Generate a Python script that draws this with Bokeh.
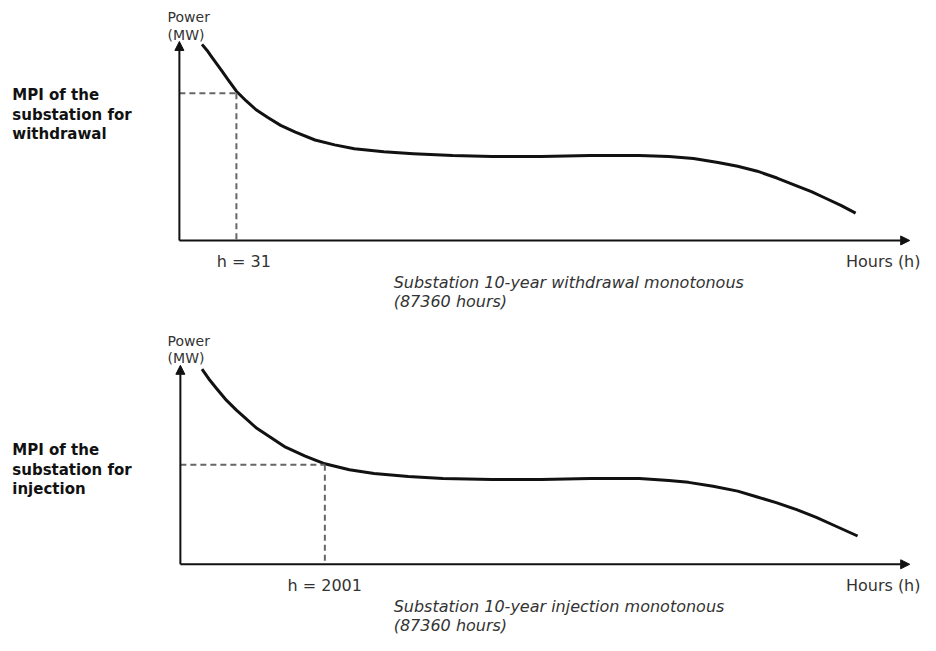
from bokeh.plotting import figure
from bokeh.models import Range1d, Arrow, NormalHead
from bokeh.core.properties import value
from bokeh.embed import file_html
from bokeh.resources import INLINE

FONT = value("DejaVu Sans")
INK = "#111111"

# curve points (reference pixel units, y downward)
top_x = [205, 210, 215, 220, 225, 232, 240, 250, 260, 272, 285, 300, 320, 340, 360, 390, 420, 460, 500,
         550, 600, 650, 680, 705, 730, 750, 770, 790, 810, 825, 840, 855, 870]
top_y = [45, 51, 58, 65, 72, 82, 93, 103, 112, 120, 128, 135, 143, 148, 152, 155, 157, 159, 160,
         160, 159, 159, 160, 162, 166, 170, 175, 182, 190, 196, 203, 210, 218]
bot_x = [205, 212, 220, 230, 240, 250, 260, 275, 290, 310, 330, 355, 380, 415, 450, 500, 550, 600,
         650, 680, 700, 725, 750, 770, 790, 810, 830, 850, 872]
bot_y = [378, 388, 398, 410, 420, 429, 438, 448, 458, 467, 475, 481, 485, 488, 490, 491, 491, 490,
         490, 492, 494, 498, 503, 509, 515, 522, 530, 539, 549]

panels = [
    dict(ox=182, oy=246, ytop=42, xend=925, cx=top_x, cy=top_y, hx=240, hy=95,
         h_label="h = 31", h_lx=220, mpi=["MPI of the", "substation for", "withdrawal"], mpi_y=97,
         cap=["Substation 10-year withdrawal monotonous", "(87360 hours)"]),
    dict(ox=183, oy=578, ytop=374, xend=925, cx=bot_x, cy=bot_y, hx=330, hy=476,
         h_label="h = 2001", h_lx=292, mpi=["MPI of the", "substation for", "injection"], mpi_y=461,
         cap=["Substation 10-year injection monotonous", "(87360 hours)"]),
]

p = figure(width=920, height=635, output_backend="svg", toolbar_location=None,
           x_range=Range1d(0, 936), y_range=Range1d(651, 0), min_border=0)
p.axis.visible = False
p.grid.visible = False
p.outline_line_color = None
p.background_fill_color = "white"

for d in panels:
    p.add_layout(Arrow(end=NormalHead(size=9, fill_color=INK, line_color=INK),
                       x_start=d["ox"], y_start=d["oy"], x_end=d["ox"], y_end=d["ytop"],
                       line_color=INK, line_width=2))
    p.add_layout(Arrow(end=NormalHead(size=9, fill_color=INK, line_color=INK),
                       x_start=d["ox"], y_start=d["oy"], x_end=d["xend"], y_end=d["oy"],
                       line_color=INK, line_width=2))
    p.line(d["cx"], d["cy"], line_color=INK, line_width=3, line_join="round")
    p.line([d["ox"], d["hx"]], [d["hy"], d["hy"]], line_color="#666666", line_width=2, line_dash="6 4")
    p.line([d["hx"], d["hx"]], [d["hy"], d["oy"]], line_color="#666666", line_width=2, line_dash="6 4")
    p.text([170, 170], [d["ytop"] - 25, d["ytop"] - 7], text=["Power", "(MW)"],
           text_font=FONT, text_font_size="14px", text_color="#333333", text_baseline="middle")
    p.text([12] * 3, [d["mpi_y"] + i * 20 for i in range(3)], text=d["mpi"],
           text_font=FONT, text_font_size="15px", text_font_style="bold", text_color=INK,
           text_baseline="middle")
    p.text([d["h_lx"]], [d["oy"] + 22], text=[d["h_label"]], text_font=FONT,
           text_font_size="16px", text_color="#333333", text_baseline="middle")
    p.text([936], [d["oy"] + 22], text=["Hours (h)"], text_font=FONT, text_font_size="16px",
           text_color="#333333", text_baseline="middle", text_align="right")
    p.text([400, 400], [d["oy"] + 43, d["oy"] + 63], text=d["cap"], text_font=FONT,
           text_font_size="16px", text_font_style="italic", text_color="#333333",
           text_baseline="middle")

open("out.html", "w").write(file_html(p, INLINE))
